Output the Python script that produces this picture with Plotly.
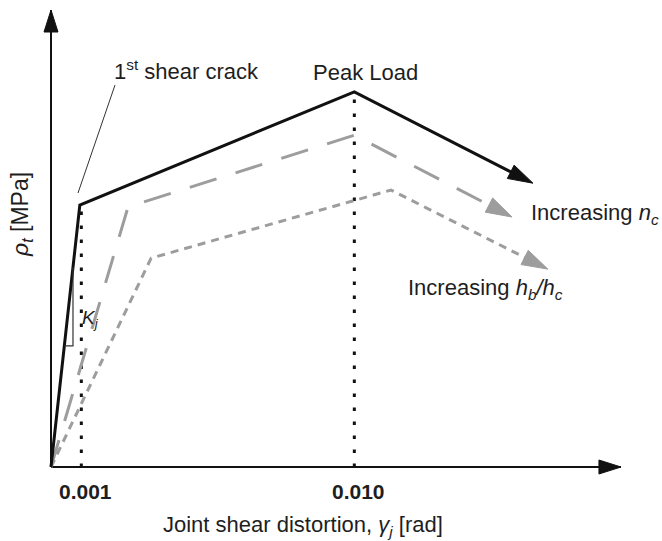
import numpy as np
import plotly.graph_objects as go

# ---------------- data (schematic values) ----------------
tick_vals = [0.001, 0.010]
tick_labels = ["0.001", "0.010"]

black_x = [0.0, 0.00095, 0.010, 0.01589]
black_y = [0.0, 5.73, 8.21, 6.21]

long_x = [0.0, 0.00254, 0.010, 0.01520]
long_y = [0.0, 5.69, 7.26, 5.47]

short_x = [0.0, 0.00330, 0.01121, 0.01638]
short_y = [0.0, 4.57, 6.06, 4.33]

x_axis_end = 0.01879
y_axis_end = 10.0

k_tri_x = 0.000725   # x of the vertical side of slope triangle
k_tri_y = 2.65       # y of the horizontal side

# ---------------- layout geometry ----------------
W, H = 662, 541
OX, OY = 51.0, 467.0          # pixel position of origin
SX, SY = 30333.0, 45.7        # pixels per unit
XMIN, XMAX = -OX / SX, (W - OX) / SX
YMIN, YMAX = -(H - OY) / SY, OY / SY

GRAY = "#9d9d9d"
DARK = "#111111"
TXT = "#1e1e1e"
FONT = "Liberation Sans, Arial, sans-serif"


def to_px(x, y):
    return OX + x * SX, OY - y * SY


def to_data(px, py):
    return (px - OX) / SX, (OY - py) / SY


def paper(px, py):
    return px / W, 1 - py / H


def arrow_head(x0, y0, x1, y1, length, half):
    p0 = np.array(to_px(x0, y0))
    p1 = np.array(to_px(x1, y1))
    d = p1 - p0
    d = d / np.linalg.norm(d)
    n = np.array([-d[1], d[0]])
    base = p1 - d * length
    pts = [p1, base + n * half, base - n * half, p1]
    xs, ys = zip(*[to_data(*p) for p in pts])
    return list(xs), list(ys)


fig = go.Figure()

# axes
fig.add_trace(go.Scatter(x=[0, x_axis_end], y=[0, 0], mode="lines",
                         line=dict(color=DARK, width=2), hoverinfo="skip"))
fig.add_trace(go.Scatter(x=[0, 0], y=[0, y_axis_end], mode="lines",
                         line=dict(color=DARK, width=2), hoverinfo="skip"))
for (xa, ya) in [arrow_head(0, 0, x_axis_end, 0, 22, 7),
                 arrow_head(0, 0, 0, y_axis_end, 22, 7)]:
    fig.add_trace(go.Scatter(x=xa, y=ya, mode="lines", fill="toself",
                             fillcolor=DARK, line=dict(color=DARK, width=1),
                             hoverinfo="skip"))

# dotted verticals
fig.add_trace(go.Scatter(x=[tick_vals[0], tick_vals[0]], y=[0, black_y[1]],
                         mode="lines", line=dict(color=DARK, width=3, dash="3.5px,10.5px"),
                         hoverinfo="skip"))
fig.add_trace(go.Scatter(x=[tick_vals[1], tick_vals[1]], y=[0, black_y[2]],
                         mode="lines", line=dict(color=DARK, width=3, dash="3.5px,10.5px"),
                         hoverinfo="skip"))

# curves
def add_curve(xs, ys, color, width, dash, head_len, head_half):
    # stop shaft a bit before tip so it is hidden by the head
    fig.add_trace(go.Scatter(x=xs[:-1] + [xs[-1] - (xs[-1] - xs[-2]) * 0.04],
                             y=ys[:-1] + [ys[-1] - (ys[-1] - ys[-2]) * 0.04],
                             mode="lines",
                             line=dict(color=color, width=width, dash=dash),
                             hoverinfo="skip"))
    ax, ay = arrow_head(xs[-2], ys[-2], xs[-1], ys[-1], head_len, head_half)
    fig.add_trace(go.Scatter(x=ax, y=ay, mode="lines", fill="toself",
                             fillcolor=color, line=dict(color=color, width=1),
                             hoverinfo="skip"))

add_curve(short_x, short_y, GRAY, 3, "8px,6px", 26, 8)
add_curve(long_x, long_y, GRAY, 3, "28px,20px", 26, 8)
add_curve(black_x, black_y, DARK, 3, "solid", 25, 7.5)

# slope triangle
kx_low = black_x[1] * k_tri_y / black_y[1]
ky_top = black_y[1] * k_tri_x / black_x[1]
fig.add_trace(go.Scatter(x=[k_tri_x, k_tri_x, kx_low], y=[ky_top, k_tri_y, k_tri_y],
                         mode="lines", line=dict(color="#333333", width=1.2),
                         hoverinfo="skip"))

# leader line for first crack
lx0, ly0 = paper(115, 85)
lx1, ly1 = paper(78, 193)
fig.add_shape(type="line", xref="paper", yref="paper", x0=lx0, y0=ly0, x1=lx1, y1=ly1,
              line=dict(color="#333333", width=1))

annots = []

def txt(text, px, py, size=22, xanchor="left", yanchor="middle", angle=0, bold=False):
    x, y = paper(px, py)
    annots.append(dict(text=f"<b>{text}</b>" if bold else text, x=x, y=y,
                       xref="paper", yref="paper", showarrow=False,
                       xanchor=xanchor, yanchor=yanchor, textangle=angle,
                       font=dict(family=FONT, size=size, color=TXT)))

txt("1<sup>st</sup> shear crack", 112, 70)
txt("Peak Load", 366, 72, xanchor="center")
txt("Increasing <i>n<sub>c</sub></i>", 529, 214)
txt("Increasing <i>h<sub>b</sub>/h<sub>c</sub></i>", 406, 289)
txt("<i>K<sub>j</sub></i>", 80, 319, size=19)
txt("Joint shear distortion, <i>γ<sub>j</sub></i> [rad]", 303, 526, xanchor="center")
txt("<i>ρ<sub>t</sub></i> [MPa]", 22, 215, xanchor="center", angle=-90, size=23)

for v, lab in zip(tick_vals, tick_labels):
    px, _ = to_px(v, 0)
    txt(lab, px + 4, 491, xanchor="center", bold=True, size=21)

fig.update_layout(
    width=W, height=H, autosize=False,
    margin=dict(l=0, r=0, t=0, b=0),
    paper_bgcolor="white", plot_bgcolor="white",
    showlegend=False,
    xaxis=dict(range=[XMIN, XMAX], visible=False, fixedrange=True),
    yaxis=dict(range=[YMIN, YMAX], visible=False, fixedrange=True),
    annotations=annots,
)

fig.write_html("out.html")
